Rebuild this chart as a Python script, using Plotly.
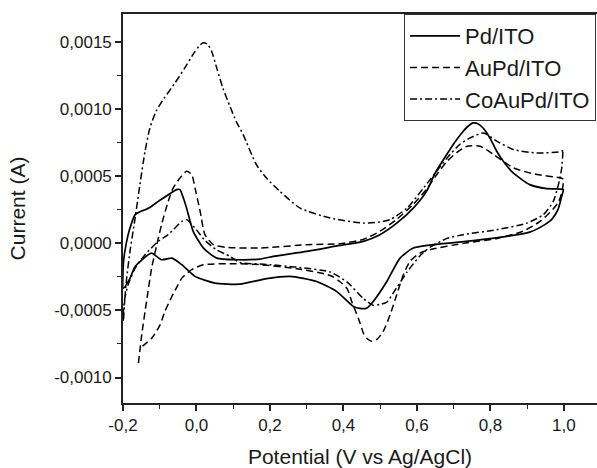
import plotly.graph_objects as go

# Pd/ITO (solid)
pd_v = [-0.199, -0.199, -0.195, -0.186, -0.178, -0.167, -0.154, -0.140, -0.127, -0.104, -0.090, -0.054, -0.045, -0.036,
        -0.027, -0.009, 0.019, 0.055, 0.109, 0.173, 0.209, 0.300, 0.390, 0.454, 0.499, 0.545, 0.590, 0.626, 0.649,
        0.681, 0.703, 0.726, 0.739, 0.753, 0.766, 0.780, 0.799, 0.817, 0.839, 0.862, 0.907, 0.953, 0.998,
        0.993, 0.984, 0.967, 0.948, 0.907, 0.844, 0.753, 0.663, 0.590, 0.554, 0.518, 0.481, 0.463, 0.445, 0.427,
        0.381, 0.327, 0.254, 0.191, 0.118, 0.050, -0.004, -0.040, -0.067, -0.095, -0.122, -0.131, -0.167, -0.181,
        -0.199]
pd_i = [-3.34e-4, -1.49e-4, -0.60e-4, 0.65e-4, 1.40e-4, 2.14e-4, 2.35e-4, 2.51e-4, 2.68e-4, 3.13e-4, 3.38e-4, 4.01e-4,
        4.01e-4, 3.40e-4, 2.63e-4, 0.90e-4, -0.35e-4, -1.10e-4, -1.22e-4, -1.17e-4, -0.97e-4, -0.60e-4, -0.15e-4,
        0.15e-4, 0.65e-4, 1.51e-4, 2.63e-4, 3.88e-4, 5.22e-4, 6.62e-4, 7.54e-4, 8.36e-4, 8.73e-4, 8.98e-4, 8.92e-4,
        8.60e-4, 7.84e-4, 6.87e-4, 5.97e-4, 5.25e-4, 4.38e-4, 4.08e-4, 4.01e-4,
        3.43e-4, 2.54e-4, 1.79e-4, 1.40e-4, 0.84e-4, 0.52e-4, 0.20e-4, -0.04e-4, -0.35e-4, -1.10e-4, -2.84e-4,
        -4.33e-4, -4.83e-4, -4.85e-4, -4.70e-4, -3.58e-4, -2.84e-4, -2.46e-4, -2.63e-4, -3.04e-4, -2.96e-4,
        -2.46e-4, -1.59e-4, -1.10e-4, -1.22e-4, -0.72e-4, -0.84e-4, -1.72e-4, -2.61e-4, -3.34e-4]

# AuPd/ITO (dashed)
aupd_v = [-0.158, -0.149, -0.136, -0.122, -0.108, -0.095, -0.077, -0.064, -0.045, -0.027, -0.013, -0.004, 0.010, 0.023,
          0.046, 0.082, 0.173, 0.300, 0.390, 0.454, 0.499, 0.545, 0.590, 0.626, 0.654, 0.682, 0.709, 0.736, 0.772,
          0.809, 0.863, 0.927, 0.992, 0.998,
          0.995, 0.986, 0.970, 0.935, 0.888, 0.818, 0.725, 0.635, 0.608, 0.581, 0.563, 0.545, 0.527, 0.508, 0.491,
          0.478, 0.464, 0.455, 0.441, 0.423, 0.410, 0.390, 0.364, 0.273, 0.173, 0.100, 0.019, -0.013, -0.040,
          -0.050, -0.067, -0.086, -0.099, -0.122, -0.154]
aupd_i = [-8.93e-4, -6.81e-4, -4.33e-4, -1.84e-4, -0.10e-4, 1.40e-4, 3.13e-4, 4.10e-4, 4.87e-4, 5.37e-4, 5.13e-4,
          4.13e-4, 2.39e-4, 0.65e-4, -0.10e-4, -0.30e-4, -0.35e-4, -0.10e-4, -0.02e-4, 0.30e-4, 0.90e-4, 1.79e-4,
          2.91e-4, 4.03e-4, 5.13e-4, 6.12e-4, 6.79e-4, 7.24e-4, 7.24e-4, 6.62e-4, 5.62e-4, 5.13e-4, 4.87e-4, 4.78e-4,
          3.88e-4, 3.13e-4, 2.54e-4, 1.64e-4, 0.90e-4, 0.37e-4, 0.0, -0.47e-4, -0.72e-4, -1.34e-4, -2.34e-4,
          -3.83e-4, -5.32e-4, -6.57e-4, -7.16e-4, -7.31e-4, -7.09e-4, -6.74e-4, -5.62e-4, -4.38e-4, -3.38e-4,
          -2.84e-4, -2.39e-4, -1.89e-4, -1.59e-4, -1.51e-4, -1.59e-4, -1.96e-4, -2.59e-4, -3.08e-4, -3.96e-4,
          -5.07e-4, -6.07e-4, -7.07e-4, -7.81e-4]

# CoAuPd/ITO (dash-dot)
coaupd_v = [-0.199, -0.195, -0.190, -0.181, -0.167, -0.154, -0.140, -0.127, -0.110, -0.088, -0.059, -0.034, -0.007,
            0.007, 0.018, 0.030, 0.041, 0.056, 0.072, 0.091, 0.108, 0.127, 0.163, 0.191, 0.227, 0.282, 0.364, 0.455,
            0.499, 0.527, 0.573, 0.618, 0.682, 0.717, 0.745, 0.781, 0.818, 0.863, 0.927, 0.995, 0.997,
            0.994, 0.985, 0.971, 0.944, 0.899, 0.817, 0.726, 0.682, 0.636, 0.609, 0.573, 0.537, 0.518, 0.499, 0.482,
            0.455, 0.410, 0.364, 0.273, 0.191, 0.118, 0.091, 0.053, 0.023, -0.001, -0.027, -0.040, -0.077, -0.104,
            -0.140, -0.167, -0.186, -0.195, -0.199, -0.199]
coaupd_i = [-5.82e-4, -4.08e-4, -2.59e-4, -0.60e-4, 1.89e-4, 4.38e-4, 6.87e-4, 8.58e-4, 9.85e-4, 10.82e-4, 11.94e-4,
            12.99e-4, 14.18e-4, 14.70e-4, 14.95e-4, 14.85e-4, 14.33e-4, 12.99e-4, 11.57e-4, 10.22e-4, 9.10e-4,
            8.11e-4, 5.87e-4, 4.85e-4, 3.88e-4, 2.63e-4, 1.89e-4, 1.51e-4, 1.60e-4, 1.77e-4, 2.63e-4, 4.13e-4,
            6.37e-4, 7.39e-4, 7.86e-4, 8.23e-4, 7.61e-4, 6.99e-4, 6.74e-4, 6.87e-4, 7.01e-4,
            5.62e-4, 4.38e-4, 3.13e-4, 2.14e-4, 1.51e-4, 1.02e-4, 0.65e-4, 0.37e-4, -0.28e-4, -0.90e-4, -2.14e-4,
            -3.63e-4, -4.38e-4, -4.55e-4, -4.63e-4, -4.13e-4, -2.89e-4, -2.14e-4, -1.77e-4, -1.57e-4, -1.42e-4,
            -0.97e-4, -0.45e-4, 0.22e-4, 1.04e-4, 1.77e-4, 1.64e-4, 0.65e-4, 0.15e-4, -0.84e-4, -1.84e-4, -3.08e-4,
            -4.08e-4, -5.07e-4, -5.82e-4]

x_tickvals = [-0.2, 0.0, 0.2, 0.4, 0.6, 0.8, 1.0]
x_ticktext = ["-0,2", "0,0", "0,2", "0,4", "0,6", "0,8", "1,0"]
y_tickvals = [-0.0010, -0.0005, 0.0, 0.0005, 0.0010, 0.0015]
y_ticktext = ["-0,0010", "-0,0005", "0,0000", "0,0005", "0,0010", "0,0015"]

FONT = "Arial, Liberation Sans, sans-serif"
INK = "#1a1a1a"

fig = go.Figure()
fig.add_trace(go.Scatter(x=pd_v, y=pd_i, name="Pd/ITO", mode="lines",
                         line=dict(color="black", width=1.7, dash="solid", shape="spline", smoothing=0.6)))
fig.add_trace(go.Scatter(x=aupd_v, y=aupd_i, name="AuPd/ITO", mode="lines",
                         line=dict(color="black", width=1.5, dash="7px,4px", shape="spline", smoothing=0.6)))
fig.add_trace(go.Scatter(x=coaupd_v, y=coaupd_i, name="CoAuPd/ITO", mode="lines",
                         line=dict(color="black", width=1.5, dash="7px,3px,2px,3px", shape="spline", smoothing=0.6)))

axis_common = dict(showgrid=False, zeroline=False, showline=True, linecolor="#222", linewidth=1.6,
                   ticks="outside", ticklen=6, tickwidth=1.5, tickcolor="#222", automargin=False,
                   tickfont=dict(family=FONT, size=17, color=INK))

fig.update_layout(
    width=597, height=468,
    margin=dict(l=123, r=0, t=14, b=65, autoexpand=False),
    paper_bgcolor="white", plot_bgcolor="white",
    font=dict(family=FONT, color=INK),
    showlegend=True,
    legend=dict(x=0.593, y=1.0, xanchor="left", yanchor="top", bgcolor="white",
                bordercolor="#333", borderwidth=1, font=dict(family=FONT, size=22, color=INK),
                itemwidth=50, tracegroupgap=0),
    xaxis=dict(range=[-0.2, 1.09], tickmode="array", tickvals=x_tickvals, ticktext=x_ticktext,
               mirror=True,
               minor=dict(tickmode="linear", tick0=-0.2, dtick=0.1, ticks="outside", ticklen=4,
                          tickwidth=1.3, tickcolor="#222"),
               title=dict(text="Potential (V vs Ag/AgCl)", font=dict(family=FONT, size=21, color=INK), standoff=15),
               **axis_common),
    yaxis=dict(range=[-0.00119, 0.00171], tickmode="array", tickvals=y_tickvals, ticktext=y_ticktext,
               minor=dict(tickmode="linear", tick0=0, dtick=0.00025, ticks="outside", ticklen=4,
                          tickwidth=1.3, tickcolor="#222"),
               title=dict(text="Current (A)", font=dict(family=FONT, size=21, color=INK), standoff=23),
               **axis_common),
)

fig.write_html("out.html", config={"displayModeBar": False},
               post_script="document.body.style.margin='0px';")
